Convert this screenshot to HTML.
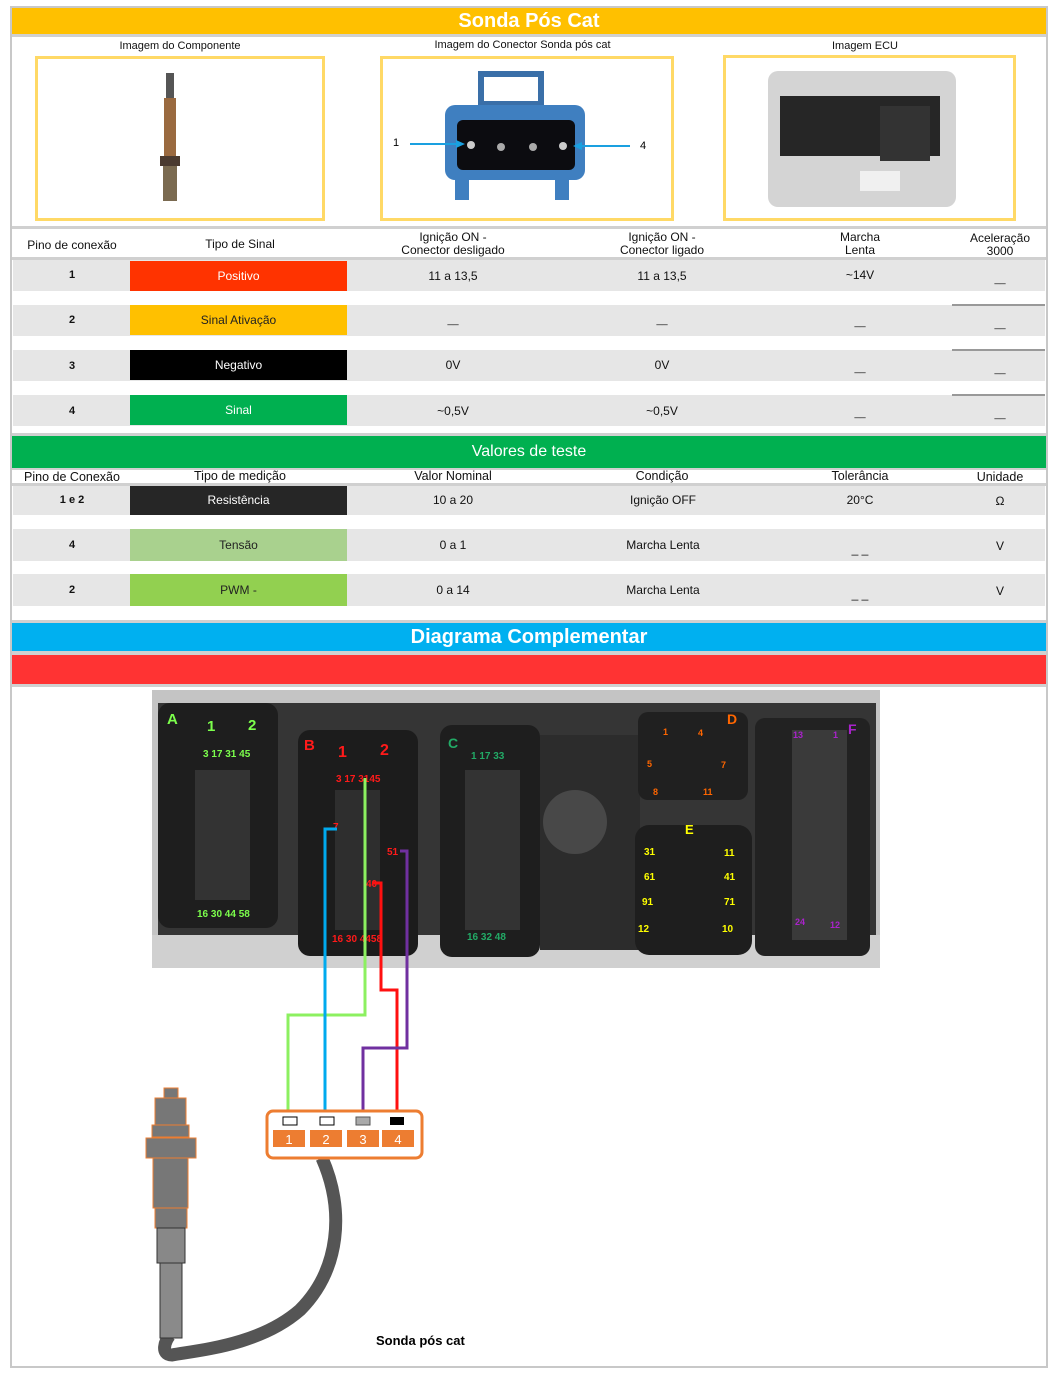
<!DOCTYPE html>
<html><head><meta charset="utf-8"><style>
*{margin:0;padding:0;box-sizing:border-box}
body{width:1057px;height:1385px;background:#fff;position:relative;font-family:"Liberation Sans",sans-serif;overflow:hidden}
.a{position:absolute}
.c{position:absolute;text-align:center;font-size:12px;color:#111}
.row{position:absolute;left:13px;width:1032px;background:#e6e6e6}
.cell{position:absolute;left:130px;width:217px;color:#fff;font-size:12px;text-align:center}
.sep{position:absolute;left:952px;width:93px;height:2px;background:#999}
</style></head><body>
<div class="a" style="left:10px;top:6px;width:1038px;height:1362px;border:2px solid #c8c8c8;border-top:3px solid #c8c8c8"></div>
<div class="a" style="left:12px;top:8px;width:1034px;height:26px;background:#FFC000;color:#fff;font-weight:bold;font-size:20px;text-align:center;line-height:26px">Sonda Pós Cat</div>
<div class="a" style="left:12px;top:34px;width:1034px;height:3px;background:#d0d0d0"></div>
<div class="c" style="left:80px;top:40px;width:200px;font-size:11px">Imagem do Componente</div>
<div class="c" style="left:400px;top:39px;width:245px;font-size:11px">Imagem do Conector Sonda pós cat</div>
<div class="c" style="left:800px;top:40px;width:130px;font-size:11px">Imagem ECU</div>
<div class="a" style="left:35px;top:56px;width:290px;height:165px;border:3px solid #FFD966"></div>
<div class="a" style="left:380px;top:56px;width:294px;height:165px;border:3px solid #FFD966"></div>
<div class="a" style="left:723px;top:55px;width:293px;height:166px;border:3px solid #FFD966"></div>
<svg class="a" style="left:150px;top:70px" width="45" height="140">
<rect x="16" y="3" width="8" height="25" fill="#555"/><rect x="14" y="28" width="12" height="60" fill="#9a6a40"/><rect x="10" y="86" width="20" height="10" fill="#4a3a30"/><rect x="13" y="96" width="14" height="35" fill="#7a6a50"/></svg>
<svg class="a" style="left:385px;top:60px" width="285" height="158">
<rect x="96" y="14" width="60" height="30" fill="none" stroke="#3a6fa8" stroke-width="6"/>
<rect x="60" y="45" width="140" height="75" rx="10" fill="#3f7fc0"/>
<rect x="72" y="60" width="118" height="50" rx="6" fill="#0c0c10"/>
<rect x="70" y="118" width="14" height="22" fill="#3f7fc0"/><rect x="170" y="118" width="14" height="22" fill="#3f7fc0"/>
<circle cx="86" cy="85" r="4" fill="#ccc"/><circle cx="116" cy="87" r="4" fill="#aaa"/><circle cx="148" cy="87" r="4" fill="#aaa"/><circle cx="178" cy="86" r="4" fill="#ccc"/>
<line x1="25" y1="84" x2="72" y2="84" stroke="#1aa0e0" stroke-width="2"/><polygon points="80,84 71,80 71,88" fill="#1aa0e0"/>
<line x1="245" y1="86" x2="196" y2="86" stroke="#1aa0e0" stroke-width="2"/><polygon points="188,86 197,82 197,90" fill="#1aa0e0"/>
<text x="8" y="86" font-size="11" font-family="Liberation Sans">1</text><text x="255" y="89" font-size="11" font-family="Liberation Sans">4</text></svg>
<svg class="a" style="left:760px;top:66px" width="200" height="146">
<rect x="8" y="5" width="188" height="136" rx="10" fill="#d4d4d4"/>
<rect x="20" y="30" width="160" height="60" fill="#262626"/><rect x="120" y="40" width="50" height="55" fill="#333"/>
<rect x="100" y="105" width="40" height="20" fill="#f0f0f0"/></svg>
<div class="a" style="left:12px;top:226px;width:1034px;height:3px;background:#d0d0d0"></div>
<div class="c" style="left:12px;top:238px;width:120px">Pino de conexão</div>
<div class="c" style="left:170px;top:237px;width:140px">Tipo de Sinal</div>
<div class="c" style="left:373px;top:231px;width:160px;line-height:13px">Ignição ON -<br>Conector desligado</div>
<div class="c" style="left:582px;top:231px;width:160px;line-height:13px">Ignição ON -<br>Conector ligado</div>
<div class="c" style="left:800px;top:231px;width:120px;line-height:13px">Marcha<br>Lenta</div>
<div class="c" style="left:950px;top:232px;width:100px;line-height:13px">Aceleração<br>3000</div>
<div class="a" style="left:12px;top:257px;width:1034px;height:3px;background:#d0d0d0"></div>
<div class="row" style="top:260px;height:31px"></div>
<div class="row" style="top:305px;height:31px"></div>
<div class="row" style="top:350px;height:31px"></div>
<div class="row" style="top:395px;height:31px"></div>
<div class="sep" style="top:304px"></div><div class="sep" style="top:349px"></div><div class="sep" style="top:394px"></div>
<div class="cell" style="top:261px;height:30px;line-height:30px;background:#FF3300">Positivo</div>
<div class="cell" style="top:305px;height:30px;line-height:30px;background:#FFC000;color:#222">Sinal Ativação</div>
<div class="cell" style="top:350px;height:30px;line-height:30px;background:#000">Negativo</div>
<div class="cell" style="top:395px;height:30px;line-height:30px;background:#00B050">Sinal</div>
<div class="c" style="left:42px;top:269px;width:60px;font-weight:bold;font-size:11px">1</div>
<div class="c" style="left:42px;top:314px;width:60px;font-weight:bold;font-size:11px">2</div>
<div class="c" style="left:42px;top:360px;width:60px;font-weight:bold;font-size:11px">3</div>
<div class="c" style="left:42px;top:405px;width:60px;font-weight:bold;font-size:11px">4</div>
<div class="c" style="left:403px;top:269px;width:100px">11 a 13,5</div>
<div class="c" style="left:612px;top:269px;width:100px">11 a 13,5</div>
<div class="c" style="left:810px;top:268px;width:100px">~14V</div>
<div class="c" style="left:950px;top:274px;width:100px;font-size:10px">__</div>
<div class="c" style="left:403px;top:315px;width:100px;font-size:10px">__</div><div class="c" style="left:612px;top:315px;width:100px;font-size:10px">__</div><div class="c" style="left:810px;top:317px;width:100px;font-size:10px">__</div><div class="c" style="left:950px;top:319px;width:100px;font-size:10px">__</div>
<div class="c" style="left:403px;top:358px;width:100px">0V</div><div class="c" style="left:612px;top:358px;width:100px">0V</div><div class="c" style="left:810px;top:363px;width:100px;font-size:10px">__</div><div class="c" style="left:950px;top:364px;width:100px;font-size:10px">__</div>
<div class="c" style="left:403px;top:404px;width:100px">~0,5V</div><div class="c" style="left:612px;top:404px;width:100px">~0,5V</div><div class="c" style="left:810px;top:408px;width:100px;font-size:10px">__</div><div class="c" style="left:950px;top:409px;width:100px;font-size:10px">__</div>
<div class="a" style="left:12px;top:433px;width:1034px;height:3px;background:#d0d0d0"></div>
<div class="a" style="left:12px;top:436px;width:1034px;height:32px;background:#00B050;color:#fff;font-size:16px;text-align:center;line-height:32px">Valores de teste</div>
<div class="a" style="left:12px;top:468px;width:1034px;height:2px;background:#d0d0d0"></div>
<div class="c" style="left:12px;top:470px;width:120px;font-size:12.5px">Pino de Conexão</div>
<div class="c" style="left:170px;top:469px;width:140px;font-size:12.5px">Tipo de medição</div>
<div class="c" style="left:393px;top:469px;width:120px;font-size:12.5px">Valor Nominal</div>
<div class="c" style="left:602px;top:469px;width:120px;font-size:12.5px">Condição</div>
<div class="c" style="left:810px;top:469px;width:100px;font-size:12.5px">Tolerância</div>
<div class="c" style="left:950px;top:470px;width:100px;font-size:12.5px">Unidade</div>
<div class="a" style="left:12px;top:483px;width:1034px;height:3px;background:#d0d0d0"></div>
<div class="row" style="top:486px;height:29px"></div>
<div class="row" style="top:529px;height:32px"></div>
<div class="row" style="top:574px;height:32px"></div>
<div class="cell" style="top:486px;height:29px;line-height:28px;background:#262626">Resistência</div>
<div class="cell" style="top:529px;height:32px;line-height:32px;background:#A9D18E;color:#222">Tensão</div>
<div class="cell" style="top:574px;height:32px;line-height:32px;background:#92D050;color:#222">PWM -</div>
<div class="c" style="left:42px;top:494px;width:60px;font-weight:bold;font-size:11px">1 e 2</div>
<div class="c" style="left:42px;top:539px;width:60px;font-weight:bold;font-size:11px">4</div>
<div class="c" style="left:42px;top:584px;width:60px;font-weight:bold;font-size:11px">2</div>
<div class="c" style="left:403px;top:493px;width:100px">10 a 20</div><div class="c" style="left:603px;top:493px;width:120px">Ignição OFF</div><div class="c" style="left:810px;top:493px;width:100px">20°C</div><div class="c" style="left:950px;top:494px;width:100px">Ω</div>
<div class="c" style="left:403px;top:538px;width:100px">0 a 1</div><div class="c" style="left:603px;top:538px;width:120px">Marcha Lenta</div><div class="c" style="left:810px;top:542px;width:100px">_ _</div><div class="c" style="left:950px;top:539px;width:100px">V</div>
<div class="c" style="left:403px;top:583px;width:100px">0 a 14</div><div class="c" style="left:603px;top:583px;width:120px">Marcha Lenta</div><div class="c" style="left:810px;top:587px;width:100px">_ _</div><div class="c" style="left:950px;top:584px;width:100px">V</div>
<div class="a" style="left:12px;top:620px;width:1034px;height:3px;background:#d0d0d0"></div>
<div class="a" style="left:12px;top:623px;width:1034px;height:28px;background:#00B0F0;color:#fff;font-weight:bold;font-size:20px;text-align:center;line-height:28px">Diagrama Complementar</div>
<div class="a" style="left:12px;top:651px;width:1034px;height:4px;background:#d0d0d0"></div>
<div class="a" style="left:12px;top:655px;width:1034px;height:29px;background:#FF3333"></div>
<div class="a" style="left:12px;top:684px;width:1034px;height:3px;background:#d0d0d0"></div>
<svg class="a" style="left:0;top:0" width="1057" height="1385" font-family="Liberation Sans" font-weight="bold">
<rect x="152" y="690" width="728" height="278" fill="#c4c4c4"/>
<rect x="158" y="703" width="718" height="250" fill="#353535"/>
<rect x="152" y="935" width="728" height="33" fill="#d0d0d0"/>
<rect x="158" y="703" width="120" height="225" rx="12" fill="#1e1e1e"/>
<rect x="298" y="730" width="120" height="226" rx="12" fill="#1c1c1c"/>
<rect x="440" y="725" width="100" height="232" rx="12" fill="#1e1e1e"/>
<rect x="540" y="735" width="100" height="215" fill="#2c2c2c"/>
<circle cx="575" cy="822" r="32" fill="#484848"/>
<rect x="638" y="712" width="110" height="88" rx="10" fill="#202020"/>
<rect x="635" y="825" width="117" height="130" rx="14" fill="#1e1e1e"/>
<rect x="755" y="718" width="115" height="238" rx="10" fill="#222"/>
<rect x="792" y="730" width="55" height="210" fill="#3a3a3a"/>
<rect x="195" y="770" width="55" height="130" fill="#333"/>
<rect x="335" y="790" width="45" height="140" fill="#2e2e2e"/>
<rect x="465" y="770" width="55" height="160" fill="#333"/>
<g fill="#7CFF4C" font-size="13"><text x="167" y="724" font-size="15">A</text><text x="207" y="731" font-size="15">1</text><text x="248" y="730" font-size="15">2</text></g>
<g fill="#7CFF4C" font-size="10"><text x="203" y="757">3  17  31 45</text><text x="197" y="917">16  30  44  58</text></g>
<g fill="#ff1a1a"><text x="304" y="750" font-size="15">B</text><text x="338" y="757" font-size="16">1</text><text x="380" y="755" font-size="16">2</text>
<text x="336" y="782" font-size="10">3  17  3145</text><text x="333" y="830" font-size="10">7</text><text x="387" y="855" font-size="10">51</text><text x="366" y="887" font-size="10">40</text><text x="332" y="942" font-size="10">16  30  4458</text></g>
<g fill="#22aa66"><text x="448" y="748" font-size="14">C</text><text x="471" y="759" font-size="10">1 17   33</text><text x="467" y="940" font-size="10">16  32   48</text></g>
<g fill="#ff6600"><text x="727" y="724" font-size="14">D</text><text x="663" y="735" font-size="9">1</text><text x="698" y="736" font-size="9">4</text><text x="647" y="767" font-size="9">5</text><text x="721" y="768" font-size="9">7</text><text x="653" y="795" font-size="9">8</text><text x="703" y="795" font-size="9">11</text></g>
<g fill="#ffff00"><text x="685" y="834" font-size="13">E</text><g font-size="10"><text x="644" y="855">31</text><text x="724" y="856">11</text><text x="644" y="880">61</text><text x="724" y="880">41</text><text x="642" y="905">91</text><text x="724" y="905">71</text><text x="638" y="932">12</text><text x="722" y="932">10</text></g></g>
<g fill="#aa22cc"><text x="848" y="734" font-size="14">F</text><g font-size="9"><text x="793" y="738">13</text><text x="833" y="738">1</text><text x="795" y="925">24</text><text x="830" y="928">12</text></g></g>
<g fill="none" stroke-width="3">
<path d="M365 778 V1015 H288 V1112" stroke="#8CF060"/>
<path d="M337 829 H325 V1112" stroke="#00AAEE"/>
<path d="M372 883 H381 V990 H397 V1112" stroke="#FF1010"/>
<path d="M400 851 H407 V1048 H363 V1112" stroke="#7030A0"/>
<path d="M322 1158 C345 1210 340 1270 300 1310 C260 1345 200 1350 172 1355 C160 1355 165 1340 170 1335" stroke="#555" stroke-width="13"/>
</g>
<rect x="267" y="1111" width="155" height="47" rx="6" fill="#fff" stroke="#ED7D31" stroke-width="3"/>
<rect x="283" y="1117" width="14" height="8" fill="#fff" stroke="#000"/><rect x="320" y="1117" width="14" height="8" fill="#fff" stroke="#000"/><rect x="356" y="1117" width="14" height="8" fill="#aaa" stroke="#555"/><rect x="390" y="1117" width="14" height="8" fill="#000"/>
<g fill="#ED7D31"><rect x="273" y="1130" width="32" height="17"/><rect x="310" y="1130" width="32" height="17"/><rect x="347" y="1130" width="32" height="17"/><rect x="382" y="1130" width="32" height="17"/></g>
<g fill="#fff" font-weight="normal" font-size="13" text-anchor="middle"><text x="289" y="1144">1</text><text x="326" y="1144">2</text><text x="363" y="1144">3</text><text x="398" y="1144">4</text></g>
<g stroke="#ED7D31" fill="#777"><rect x="164" y="1088" width="14" height="10"/><rect x="155" y="1098" width="31" height="27"/><rect x="152" y="1125" width="37" height="12"/><rect x="146" y="1138" width="50" height="20"/><rect x="153" y="1158" width="35" height="50"/><rect x="155" y="1208" width="32" height="20"/></g>
<rect x="157" y="1228" width="28" height="35" fill="#888" stroke="#333"/><rect x="160" y="1263" width="22" height="75" fill="#8a8a8a" stroke="#333"/>
<text x="376" y="1345" font-size="13" fill="#000">Sonda pós cat</text>
</svg>
</body></html>
